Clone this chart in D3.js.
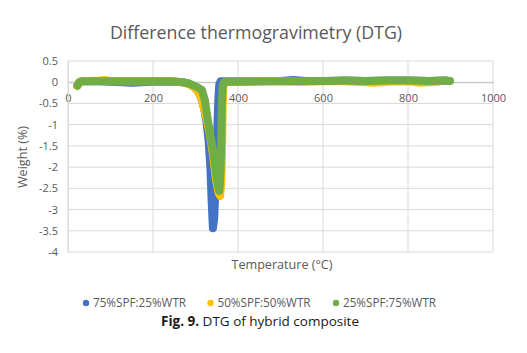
<!DOCTYPE html>
<html>
<head>
<meta charset="utf-8">
<script src="https://cdn.jsdelivr.net/npm/d3@7"></script>
<style>
  body { margin: 0; background: #fff; }
  text { font-family: "Open Sans", sans-serif; }
</style>
</head>
<body>
<div id="chart"></div>
<script>
// Series labels and colours
var seriesNames = ["75%SPF:25%WTR", "50%SPF:50%WTR", "25%SPF:75%WTR"];
var seriesColors = ["#4472C4", "#FFC000", "#70AD47"];

// 75%SPF:25%WTR (blue)
var temp75 = [22, 25, 28, 35, 50, 75, 100, 125, 150, 175, 200, 225, 250, 270, 285, 295, 305, 313, 320, 326, 331, 335, 338, 341, 344, 347, 350, 352, 354, 356, 359, 375, 400, 450, 500, 530, 560, 600, 650, 700, 750, 800, 850, 890];
var val75 = [-0.08, -0.03, 0.01, 0.02, 0.02, 0.02, 0.01, 0.0, -0.01, 0.0, 0.01, 0.01, 0.01, 0.0, -0.04, -0.1, -0.2, -0.35, -0.6, -0.95, -1.4, -2.0, -2.8, -3.44, -3.2, -2.5, -1.6, -0.9, -0.35, -0.05, 0.02, 0.02, 0.02, 0.02, 0.03, 0.05, 0.03, 0.03, 0.04, 0.03, 0.04, 0.04, 0.03, 0.04];

// 50%SPF:50%WTR (yellow)
var temp50 = [22, 25, 28, 35, 50, 75, 90, 100, 125, 150, 175, 200, 225, 250, 270, 285, 295, 305, 315, 322, 329, 335, 341, 347, 352, 355, 358, 361, 363, 364, 366, 370, 400, 450, 500, 550, 600, 650, 700, 720, 750, 800, 830, 870];
var val50 = [-0.09, -0.04, 0.01, 0.02, 0.03, 0.04, 0.05, 0.03, 0.02, 0.02, 0.02, 0.02, 0.03, 0.02, 0.0, -0.05, -0.1, -0.2, -0.4, -0.7, -1.0, -1.3, -1.7, -2.2, -2.5, -2.62, -2.68, -2.3, -1.2, -0.5, -0.05, 0.01, 0.01, 0.02, 0.02, 0.01, 0.02, 0.02, 0.0, -0.01, 0.01, 0.02, -0.01, 0.01];

// 25%SPF:75%WTR (green)
var temp25 = [22, 24, 27, 32, 45, 75, 100, 150, 200, 250, 270, 285, 294, 305, 315, 322, 329, 335, 341, 348, 353, 356, 359, 361, 362, 364, 367, 375, 400, 450, 500, 550, 590, 620, 650, 700, 750, 800, 850, 880, 899];
var val25 = [-0.08, -0.04, 0.0, 0.02, 0.02, 0.02, 0.02, 0.02, 0.02, 0.02, 0.0, -0.03, -0.07, -0.12, -0.18, -0.42, -0.89, -1.25, -1.6, -2.1, -2.45, -2.56, -2.1, -1.2, -0.5, -0.1, 0.0, 0.01, 0.01, 0.02, 0.02, 0.02, 0.03, 0.03, 0.04, 0.03, 0.04, 0.04, 0.03, 0.04, 0.03];

var seriesTemps = [temp75, temp50, temp25];
var seriesVals = [val75, val50, val25];

// Axis ticks
var xTicks = [0, 200, 400, 600, 800, 1000];
var yTicks = [0.5, 0, -0.5, -1, -1.5, -2, -2.5, -3, -3.5, -4];

function init() {
    var w = 527;
    var h = 353;

    var svg = d3.select("#chart")
        .append("svg")
        .attr("width", w)
        .attr("height", h);

    var x = d3.scaleLinear().domain([0, 1000]).range([68, 493]);
    var y = d3.scaleLinear().domain([-4, 0.5]).range([252, 61]);

    var grey = "#595959";

    // horizontal gridlines
    svg.append("g")
        .selectAll("line")
        .data(yTicks)
        .enter()
        .append("line")
        .attr("x1", x(0))
        .attr("x2", x(1000))
        .attr("y1", function(d) { return y(d); })
        .attr("y2", function(d) { return y(d); })
        .attr("stroke", "#d9d9d9")
        .attr("stroke-width", 1);

    // vertical gridlines
    svg.append("g")
        .selectAll("line")
        .data(xTicks)
        .enter()
        .append("line")
        .attr("x1", function(d) { return x(d); })
        .attr("x2", function(d) { return x(d); })
        .attr("y1", y(0.5))
        .attr("y2", y(-4))
        .attr("stroke", "#d9d9d9")
        .attr("stroke-width", 1);

    // x axis crossing at 0
    var xAxis = svg.append("g")
        .attr("transform", "translate(0," + y(0) + ")")
        .call(d3.axisBottom(x).tickValues(xTicks).tickSize(0).tickPadding(12)
            .tickFormat(d3.format("d")));
    xAxis.select(".domain").attr("stroke", "#bfbfbf");
    xAxis.selectAll("text")
        .attr("fill", grey)
        .style("font-size", "11px");

    // y axis
    var yAxis = svg.append("g")
        .attr("transform", "translate(" + x(0) + ",0)")
        .call(d3.axisLeft(y).tickValues(yTicks).tickSize(0).tickPadding(10)
            .tickFormat(function(d) { return String(d); }));
    yAxis.select(".domain").attr("stroke", "#d9d9d9");
    yAxis.selectAll("text")
        .attr("fill", grey)
        .style("font-size", "11px");

    // series drawn as dense marker bands
    var line = d3.line()
        .x(function(d) { return x(d[0]); })
        .y(function(d) { return y(d[1]); });

    seriesTemps.forEach(function(temps, i) {
        var pts = temps.map(function(t, j) { return [t, seriesVals[i][j]]; });
        svg.append("path")
            .datum(pts)
            .attr("d", line)
            .attr("fill", "none")
            .attr("stroke", seriesColors[i])
            .attr("stroke-width", 8)
            .attr("stroke-linecap", "round")
            .attr("stroke-linejoin", "round");
    });

    // title
    svg.append("text")
        .attr("x", 256)
        .attr("y", 39)
        .attr("text-anchor", "middle")
        .attr("fill", grey)
        .style("font-size", "17.8px")
        .text("Difference thermogravimetry (DTG)");

    // axis titles
    svg.append("text")
        .attr("x", 282)
        .attr("y", 269)
        .attr("text-anchor", "middle")
        .attr("fill", grey)
        .style("font-size", "12.6px")
        .text("Temperature (°C)");

    svg.append("text")
        .attr("transform", "translate(27,157) rotate(-90)")
        .attr("text-anchor", "middle")
        .attr("fill", grey)
        .style("font-size", "12.6px")
        .text("Weight (%)");

    // legend
    var legendX = [86, 210.5, 336];
    var legend = svg.append("g")
        .selectAll("g")
        .data(seriesNames)
        .enter()
        .append("g")
        .attr("transform", function(d, i) { return "translate(" + legendX[i] + ",303)"; });
    legend.append("circle")
        .attr("r", 3.2)
        .attr("fill", function(d, i) { return seriesColors[i]; });
    legend.append("text")
        .attr("x", 7)
        .attr("y", 4)
        .attr("fill", grey)
        .style("font-size", "11.7px")
        .text(function(d) { return d; });

    // figure caption
    var caption = svg.append("text")
        .attr("x", 260)
        .attr("y", 326)
        .attr("text-anchor", "middle")
        .attr("fill", "#1a1a1a")
        .style("font-size", "13.5px");
    caption.append("tspan").style("font-weight", "bold").text("Fig. 9.");
    caption.append("tspan").text(" DTG of hybrid composite");
}

window.onload = init;
</script>
</body>
</html>
